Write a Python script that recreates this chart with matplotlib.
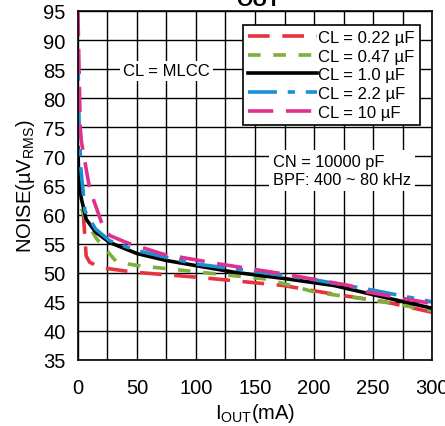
import matplotlib
matplotlib.use("Agg")
import matplotlib.pyplot as plt
from matplotlib.ticker import MultipleLocator

plt.rcParams['font.family'] = ['Liberation Sans', 'DejaVu Sans']
plt.rcParams['mathtext.fontset'] = 'custom'
plt.rcParams['mathtext.rm'] = 'Liberation Sans'
plt.rcParams['mathtext.it'] = 'Liberation Sans'

# noise vs output current
x_022 = [4.5, 7, 10, 19, 47, 103, 174, 217, 260, 300]
y_022 = [60.4, 52.9, 51.8, 50.9, 50.1, 49.2, 47.8, 46.3, 45.0, 43.2]

x_047 = [3, 8, 16, 33, 52, 103, 160, 202, 250, 300]
y_047 = [61, 58.5, 55.8, 51.8, 51.2, 50.1, 48.9, 46.6, 45.3, 43.5]

x_10 = [0, 0.8, 3, 7, 15, 27, 50, 75, 132, 175, 217, 259, 300]
y_10 = [71.5, 66, 62.7, 59.2, 57, 55.2, 53.3, 52.1, 50.1, 49.0, 47.8, 45.8, 43.9]

x_22 = [0, 1, 2.5, 6, 15, 27, 50, 100, 150, 200, 250, 300]
y_22 = [88, 76, 68, 60.6, 57.5, 55.5, 53.8, 51.5, 50.2, 48.8, 47, 45.0]

x_100 = [0, 2, 3, 10, 21, 27, 41, 72, 120, 174, 230, 245, 300]
y_100 = [95, 75, 72.5, 64.4, 58.1, 56.4, 55.2, 53.2, 51.5, 49.8, 47.8, 46.7, 44.7]

labels = ['CL = 0.22 µF', 'CL = 0.47 µF', 'CL = 1.0 µF', 'CL = 2.2 µF', 'CL = 10 µF']
xticks = [0, 50, 100, 150, 200, 250, 300]
yticks = [35, 40, 45, 50, 55, 60, 65, 70, 75, 80, 85, 90, 95]

fig = plt.figure(figsize=(4.45, 4.27), dpi=100)
ax = fig.add_axes([0.175, 0.1546, 0.796, 0.8174])

ax.plot(x_022, y_022, color='#e8333f', lw=2.6, dashes=(6, 3.5), label=labels[0])
ax.plot(x_047, y_047, color='#7eae3c', lw=2.6, dashes=(3.5, 3.5), label=labels[1])
ax.plot(x_10, y_10, color='black', lw=2.6, label=labels[2])
ax.plot(x_22, y_22, color='#1a8fd4', lw=2.6, dashes=(8, 3, 2, 3), label=labels[3])
ax.plot(x_100, y_100, color='#e0308f', lw=2.6, dashes=(7, 3.5), label=labels[4])

ax.set_xlim(0, 300)
ax.set_ylim(35, 95)
ax.set_xticks(xticks)
ax.xaxis.set_minor_locator(MultipleLocator(25))
ax.set_yticks(yticks)
ax.grid(True, which='both', color='black', lw=1)
ax.tick_params(which='both', length=0, labelsize=14.5)
ax.tick_params(axis='x', pad=13)
ax.tick_params(axis='y', pad=9)
for s in ax.spines.values():
    s.set_linewidth(1.2)

ax.set_xlabel(r'I$_{\mathrm{OUT}}$(mA)', fontsize=14.5, labelpad=3)
ax.set_ylabel(r'NOISE(µV$_{\mathrm{RMS}}$)', fontsize=14.5, labelpad=4)

leg = ax.legend(loc='upper right', bbox_to_anchor=(0.965, 0.96), fontsize=12,
                frameon=True, fancybox=False, framealpha=1, edgecolor='black',
                handlelength=4.1, handletextpad=0.1, labelspacing=0.22,
                borderpad=0.3, borderaxespad=0)
leg.get_frame().set_linewidth(1.2)

ax.text(75, 84.7, 'CL = MLCC', fontsize=12, ha='center', va='center',
        bbox=dict(facecolor='white', edgecolor='none', pad=2))
ax.text(165, 67.6, 'CN = 10000 pF\nBPF: 400 ~ 80 kHz', fontsize=11.8,
        ha='left', va='center', linespacing=1.2,
        bbox=dict(facecolor='white', edgecolor='none', pad=3))

fig.text(0.58, 0.986, 'OUT', fontsize=15, fontweight='bold', ha='center', va='baseline')

fig.savefig('out.png', dpi=100)
